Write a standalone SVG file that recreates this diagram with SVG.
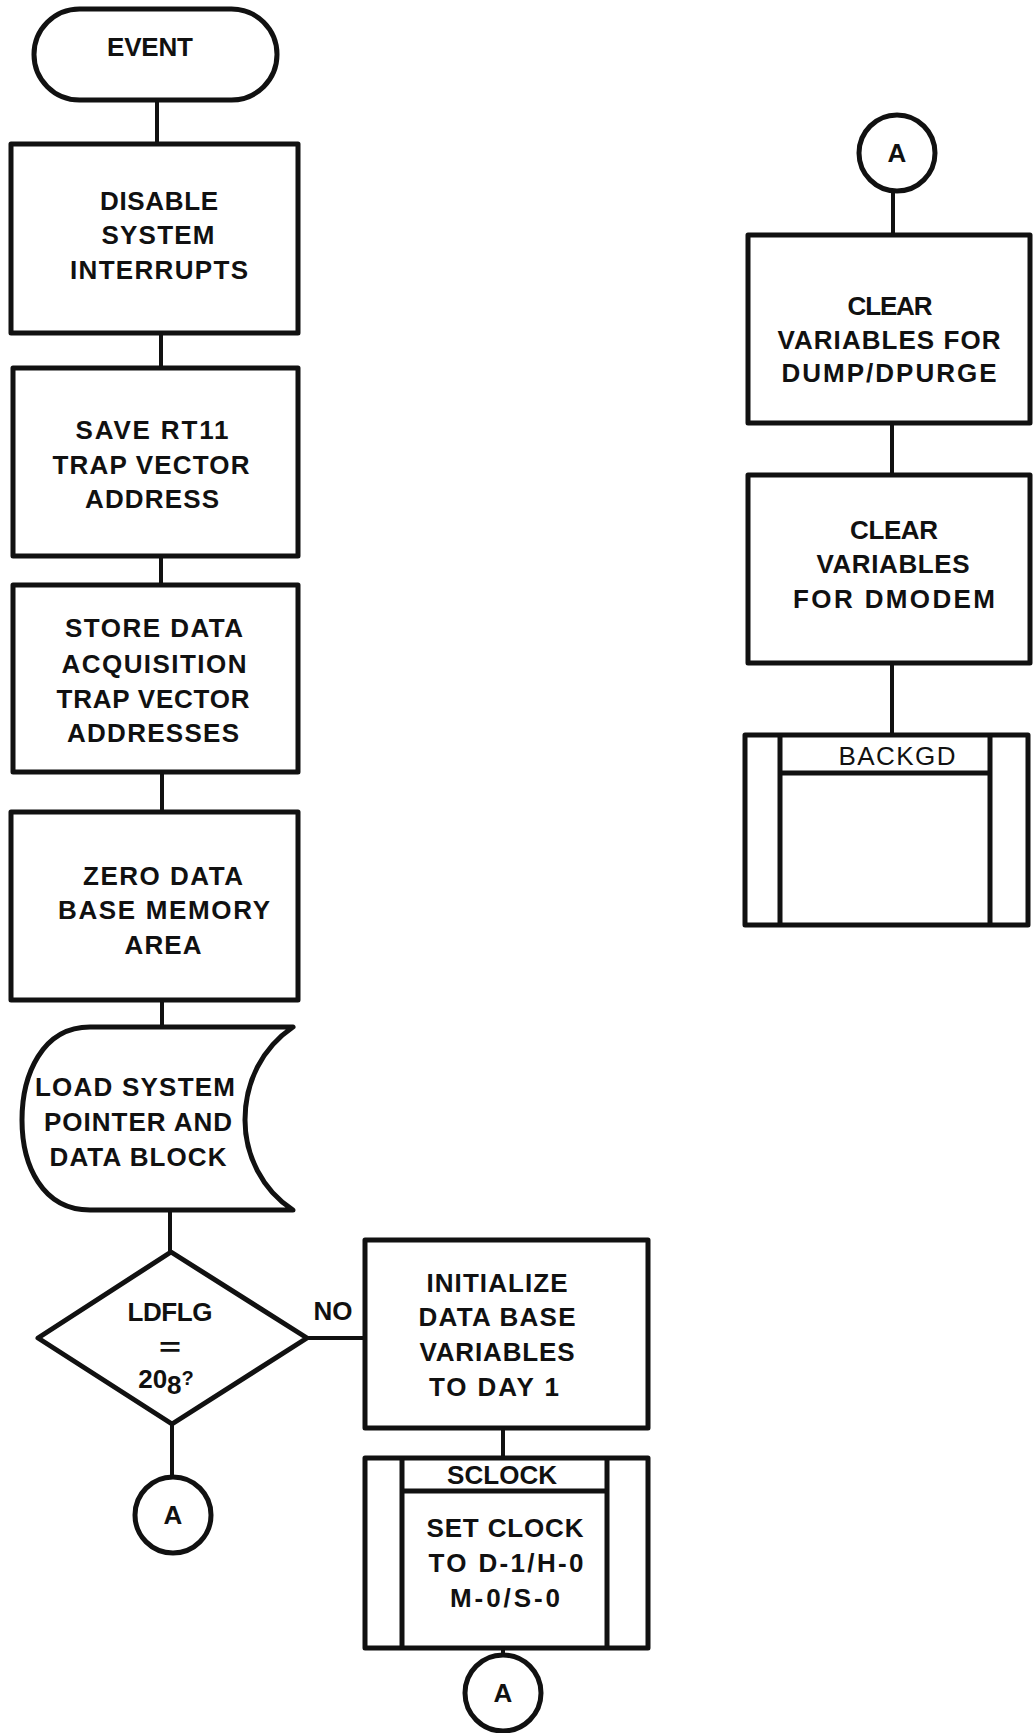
<svg xmlns="http://www.w3.org/2000/svg" width="1033" height="1733" viewBox="0 0 1033 1733">
<style>
.s{fill:#fff;stroke:#111;stroke-width:5;stroke-linejoin:round}
.b{fill:none;stroke:#111;stroke-width:5}
.c{fill:none;stroke:#111;stroke-width:4}
.t{font-family:"Liberation Sans",Arial,sans-serif;font-weight:bold;font-size:26px;fill:#111;text-anchor:middle}
.r{font-weight:normal}
</style>
<rect width="1033" height="1733" fill="#fff"/>
<g id="connectors">
<line class="c" x1="157" y1="100" x2="157" y2="144"/>
<line class="c" x1="161" y1="333" x2="161" y2="368"/>
<line class="c" x1="161" y1="556" x2="161" y2="585"/>
<line class="c" x1="162" y1="772" x2="162" y2="812"/>
<line class="c" x1="162" y1="1000" x2="162" y2="1027"/>
<line class="c" x1="170" y1="1210" x2="170" y2="1252"/>
<line class="c" x1="172" y1="1424" x2="172" y2="1477"/>
<line class="c" x1="307" y1="1338" x2="365" y2="1338"/>
<line class="c" x1="503" y1="1428" x2="503" y2="1458"/>
<line class="c" x1="503" y1="1648" x2="503" y2="1655"/>
<line class="c" x1="893" y1="191" x2="893" y2="235"/>
<line class="c" x1="892" y1="423" x2="892" y2="475"/>
<line class="c" x1="892" y1="663" x2="892" y2="735"/>
<text class="t" x="333" y="1320" textLength="39">NO</text>
</g>
<g id="event">
<rect class="s" x="34" y="9" width="243" height="91" rx="45.5"/>
<text class="t" x="150" y="56" textLength="86">EVENT</text>
</g>
<g id="disable">
<rect class="s" x="11" y="144" width="287" height="189"/>
<text class="t" x="159" y="210" textLength="118">DISABLE</text>
<text class="t" x="158" y="244" textLength="113">SYSTEM</text>
<text class="t" x="159" y="279" textLength="178">INTERRUPTS</text>
</g>
<g id="save">
<rect class="s" x="13" y="368" width="285" height="188"/>
<text class="t" x="152" y="439" textLength="153">SAVE RT11</text>
<text class="t" x="151" y="474" textLength="197">TRAP VECTOR</text>
<text class="t" x="152" y="508" textLength="134">ADDRESS</text>
</g>
<g id="store">
<rect class="s" x="13" y="585" width="285" height="187"/>
<text class="t" x="154" y="637" textLength="178">STORE DATA</text>
<text class="t" x="154" y="673" textLength="185">ACQUISITION</text>
<text class="t" x="153" y="708" textLength="193">TRAP VECTOR</text>
<text class="t" x="153" y="742" textLength="172">ADDRESSES</text>
</g>
<g id="zero">
<rect class="s" x="11" y="812" width="287" height="188"/>
<text class="t" x="163" y="885" textLength="160">ZERO DATA</text>
<text class="t" x="164" y="919" textLength="212">BASE MEMORY</text>
<text class="t" x="163" y="954" textLength="77">AREA</text>
</g>
<g id="load">
<path class="s" d="M293 1027 L90 1027 C42 1027 22 1075 22 1120 C22 1165 42 1210 90 1210 L293 1210 C262 1190 245 1155 245 1120 C245 1082 262 1048 293 1027 Z"/>
<text class="t" x="135" y="1096" textLength="200">LOAD SYSTEM</text>
<text class="t" x="138" y="1131" textLength="188">POINTER AND</text>
<text class="t" x="138" y="1166" textLength="177">DATA BLOCK</text>
</g>
<g id="ldflg">
<polygon class="s" points="171,1252 307,1338 172,1424 38,1338"/>
<text class="t" x="170" y="1321" textLength="85">LDFLG</text>
<text class="t" x="170" y="1356" font-size="34" textLength="22" lengthAdjust="spacingAndGlyphs">=</text>
<text class="t" x="166" y="1388">20<tspan dy="6">8</tspan><tspan dy="-9" font-size="20">?</tspan></text>
</g>
<g id="conA1">
<circle class="s" cx="173" cy="1515" r="38"/>
<text class="t" x="173" y="1524">A</text>
</g>
<g id="initialize">
<rect class="s" x="365" y="1240" width="283" height="188"/>
<text class="t" x="497" y="1292" textLength="141">INITIALIZE</text>
<text class="t" x="497" y="1326" textLength="157">DATA BASE</text>
<text class="t" x="497" y="1361" textLength="155">VARIABLES</text>
<text class="t" x="494" y="1396" textLength="130">TO DAY 1</text>
</g>
<g id="sclock">
<rect class="s" x="365" y="1458" width="283" height="190"/>
<line class="b" x1="402" y1="1458" x2="402" y2="1648"/>
<line class="b" x1="607" y1="1458" x2="607" y2="1648"/>
<line class="b" x1="402" y1="1491" x2="607" y2="1491"/>
<text class="t" x="502" y="1484" textLength="110">SCLOCK</text>
<text class="t" x="505" y="1537" textLength="157">SET CLOCK</text>
<text class="t" x="506" y="1572" textLength="155">TO D-1/H-0</text>
<text class="t" x="505" y="1607" textLength="110">M-0/S-0</text>
</g>
<g id="conA2">
<circle class="s" cx="503" cy="1693" r="38"/>
<text class="t" x="503" y="1702">A</text>
</g>
<g id="conA3">
<circle class="s" cx="897" cy="153" r="38"/>
<text class="t" x="897" y="162">A</text>
</g>
<g id="clear1">
<rect class="s" x="748" y="235" width="282" height="188"/>
<text class="t" x="890" y="315" textLength="85">CLEAR</text>
<text class="t" x="889" y="349" textLength="223">VARIABLES FOR</text>
<text class="t" x="889" y="382" textLength="215">DUMP/DPURGE</text>
</g>
<g id="clear2">
<rect class="s" x="748" y="475" width="282" height="188"/>
<text class="t" x="894" y="539" textLength="88">CLEAR</text>
<text class="t" x="893" y="573" textLength="153">VARIABLES</text>
<text class="t" x="894" y="608" textLength="202">FOR DMODEM</text>
</g>
<g id="backgd">
<rect class="s" x="745" y="735" width="283" height="190"/>
<line class="b" x1="780" y1="735" x2="780" y2="925"/>
<line class="b" x1="990" y1="735" x2="990" y2="925"/>
<line class="b" x1="780" y1="773" x2="990" y2="773"/>
<text class="t r" x="897" y="765" textLength="117">BACKGD</text>
</g>
</svg>
